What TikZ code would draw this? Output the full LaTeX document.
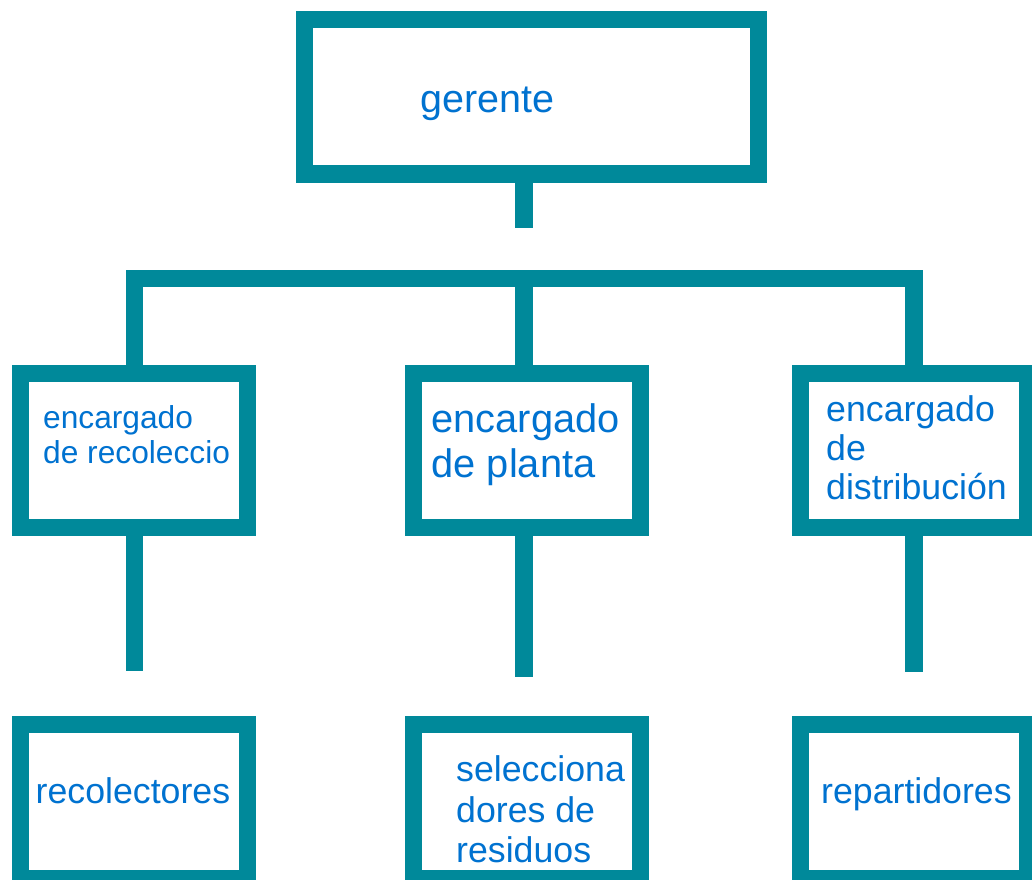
\documentclass[tikz,border=0pt]{standalone}
\usepackage{fontspec}
\setmainfont{Liberation Sans}
\definecolor{teal1}{RGB}{0,137,154}
\definecolor{txtblue}{RGB}{0,114,208}
\begin{document}
\begin{tikzpicture}[x=1pt,y=-1pt,
  box/.style={draw=teal1,line width=17.4pt,inner sep=0pt,minimum width=227pt,minimum height=154pt},
  conn/.style={draw=teal1,line width=17.4pt,line cap=butt,line join=miter},
  lbl/.style={anchor=base west,inner sep=0pt,text=txtblue},
  fA/.style={font=\fontsize{39.5}{44}\selectfont},
  fB/.style={font=\fontsize{31.7}{35}\selectfont},
  fC/.style={font=\fontsize{35.7}{40}\selectfont}]
\useasboundingbox (0,0) rectangle (1032,879);
% coordinates for connector ends
\coordinate (gs) at (523.9,227.7);
\coordinate (bl) at (134.2,278.7);
\coordinate (bm) at (523.9,278.7);
\coordinate (br) at (913.8,278.7);
\coordinate (sl) at (134.2,671);
\coordinate (sm) at (523.9,676.7);
\coordinate (sr) at (913.8,671.5);
% boxes
\node[box,minimum width=454.2pt,minimum height=154.3pt] (g) at (531.4,96.8) {};
\node[box] (l1) at (134,450.5) {};
\node[box] (m1) at (526.9,450.5) {};
\node[box] (r1) at (914.2,450.5) {};
\node[box] (l2) at (134,801.5) {};
\node[box] (m2) at (526.9,801.5) {};
\node[box] (r2) at (914.2,801.5) {};
% connectors
\draw[conn] (g.south -| gs) -- (gs);
\draw[conn] (l1.north -| bl) -- (bl) -- (br) -- (r1.north -| br);
\draw[conn] (bm) -- (m1.north -| bm);
\draw[conn] (l1.south -| sl) -- (sl);
\draw[conn] (m1.south -| sm) -- (sm);
\draw[conn] (r1.south -| sr) -- (sr);
% texts
\node[lbl,fA] (tg) at (420,112.5) {gerente};
\node[lbl,fB] (tl1a) at (43,428.8) {encargado};
\node[lbl,fB] (tl1b) at (43,463.8) {de recoleccio};
\node[lbl,fA,font=\fontsize{39.8}{44}\selectfont] (tm1a) at (431.5,432.2) {encargado};
\node[lbl,fA,font=\fontsize{39.8}{44}\selectfont] (tm1b) at (431.5,477.2) {de planta};
\node[lbl,fC] (tr1a) at (826,421.5) {encargado};
\node[lbl,fC] (tr1b) at (826,460.5) {de};
\node[lbl,fC] (tr1c) at (826,499.8) {distribución};
\node[lbl,fC] (tl2) at (35.5,803.2) {recolectores};
\node[lbl,fC] (tm2a) at (456,781.2) {selecciona};
\node[lbl,fC] (tm2b) at (456,822.8) {dores de};
\node[lbl,fC] (tm2c) at (456,862.2) {residuos};
\node[lbl,fC] (tr2) at (821,803.2) {repartidores};
\end{tikzpicture}
\end{document}
